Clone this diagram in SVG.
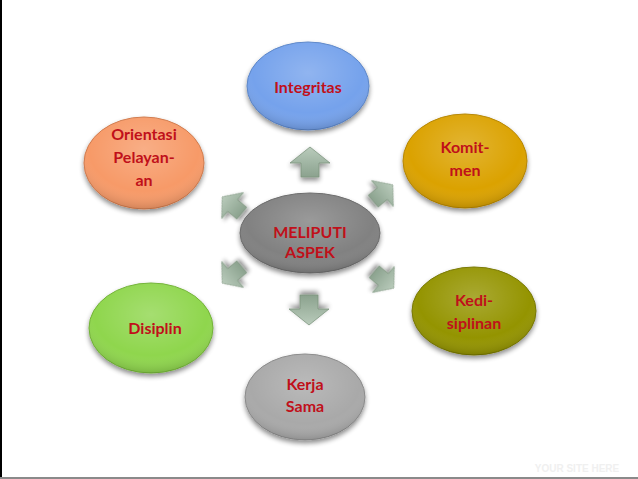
<svg xmlns="http://www.w3.org/2000/svg" width="638" height="479" viewBox="0 0 638 479">
<defs>
<style>
.lbl{font-family:Lato,"Open Sans","Noto Sans",sans-serif;font-weight:bold;font-size:16px;fill:#c0101a;text-anchor:middle}
.arr{fill:url(#ga);stroke:#7d957f;stroke-width:0.8}
</style>
<filter id="sh" x="-20%" y="-20%" width="140%" height="150%">
<feGaussianBlur in="SourceAlpha" stdDeviation="2.5"/>
<feOffset dx="0" dy="3" result="b"/>
<feComponentTransfer><feFuncA type="linear" slope="0.45"/></feComponentTransfer>
<feMerge><feMergeNode/><feMergeNode in="SourceGraphic"/></feMerge>
</filter>
<radialGradient id="hl" cx="50%" cy="35%" r="65%">
<stop offset="0" stop-color="#fff" stop-opacity="0.2"/>
<stop offset="0.7" stop-color="#fff" stop-opacity="0"/>
<stop offset="1" stop-color="#000" stop-opacity="0.15"/>
</radialGradient>
<linearGradient id="ga" x1="0" y1="0" x2="0" y2="1">
<stop offset="0" stop-color="#b9cbbb"/>
<stop offset="1" stop-color="#8ba28e"/>
</linearGradient>
<path id="arrow" d="M0,-15 L20,1 L9,1 L9,15 L-9,15 L-9,1 L-20,1 Z"/>
</defs>
<rect width="638" height="479" fill="#ffffff"/>
<rect x="0" y="0" width="2" height="479" fill="#000"/>
<rect x="0" y="477" width="638" height="2" fill="#8a8a8a"/>
<text x="577" y="472" style="font-family:'Liberation Sans',Arial,sans-serif;font-weight:bold;font-size:10px;fill:#f0f0f0;text-anchor:middle">YOUR SITE HERE</text>

<g id="connectors">
<use href="#arrow" class="arr" filter="url(#sh)" transform="translate(310,162)"/>
<use href="#arrow" class="arr" filter="url(#sh)" transform="translate(383,193) rotate(50) scale(0.85)"/>
<use href="#arrow" class="arr" filter="url(#sh)" transform="translate(384,280) rotate(130) scale(0.85)"/>
<use href="#arrow" class="arr" filter="url(#sh)" transform="translate(309,310) rotate(180)"/>
<use href="#arrow" class="arr" filter="url(#sh)" transform="translate(232,275) rotate(230) scale(0.85)"/>
<use href="#arrow" class="arr" filter="url(#sh)" transform="translate(232,205) rotate(310) scale(0.85)"/>
</g>

<g id="center">
<ellipse cx="310" cy="233" rx="70" ry="40" fill="#818181" stroke="#6a6a6a" stroke-width="1" filter="url(#sh)"/>
<ellipse cx="310" cy="233" rx="70" ry="40" fill="url(#hl)"/>
<text class="lbl" x="310" y="238">MELIPUTI</text>
<text class="lbl" x="310" y="258">ASPEK</text>
</g>

<g id="integritas">
<ellipse cx="308" cy="86" rx="61" ry="44" fill="#74a2ec" stroke="#5c86c8" stroke-width="1" filter="url(#sh)"/>
<ellipse cx="308" cy="86" rx="61" ry="44" fill="url(#hl)"/>
<text class="lbl" x="308" y="93">Integritas</text>
</g>

<g id="orientasi">
<ellipse cx="144" cy="163" rx="60" ry="46" fill="#f79a68" stroke="#d07a4c" stroke-width="1" filter="url(#sh)"/>
<ellipse cx="144" cy="163" rx="60" ry="46" fill="url(#hl)"/>
<text class="lbl" x="144" y="140">Orientasi</text>
<text class="lbl" x="144" y="163">Pelayan-</text>
<text class="lbl" x="144" y="186">an</text>
</g>

<g id="komitmen">
<ellipse cx="465" cy="161" rx="62" ry="47" fill="#dba203" stroke="#b58500" stroke-width="1" filter="url(#sh)"/>
<ellipse cx="465" cy="161" rx="62" ry="47" fill="url(#hl)"/>
<text class="lbl" x="465" y="153">Komit-</text>
<text class="lbl" x="465" y="176">men</text>
</g>

<g id="kedisiplinan">
<ellipse cx="474" cy="311" rx="62" ry="44" fill="#949400" stroke="#777700" stroke-width="1" filter="url(#sh)"/>
<ellipse cx="474" cy="311" rx="62" ry="44" fill="url(#hl)"/>
<text class="lbl" x="474" y="306">Kedi-</text>
<text class="lbl" x="474" y="329">siplinan</text>
</g>

<g id="disiplin">
<ellipse cx="151" cy="328" rx="62" ry="45" fill="#8fd64e" stroke="#72b236" stroke-width="1" filter="url(#sh)"/>
<ellipse cx="151" cy="328" rx="62" ry="45" fill="url(#hl)"/>
<text class="lbl" x="155" y="334">Disiplin</text>
</g>

<g id="kerjasama">
<ellipse cx="305" cy="397" rx="60" ry="43" fill="#a9a9a9" stroke="#8a8a8a" stroke-width="1" filter="url(#sh)"/>
<ellipse cx="305" cy="397" rx="60" ry="43" fill="url(#hl)"/>
<text class="lbl" x="305" y="390">Kerja</text>
<text class="lbl" x="305" y="412">Sama</text>
</g>
</svg>
